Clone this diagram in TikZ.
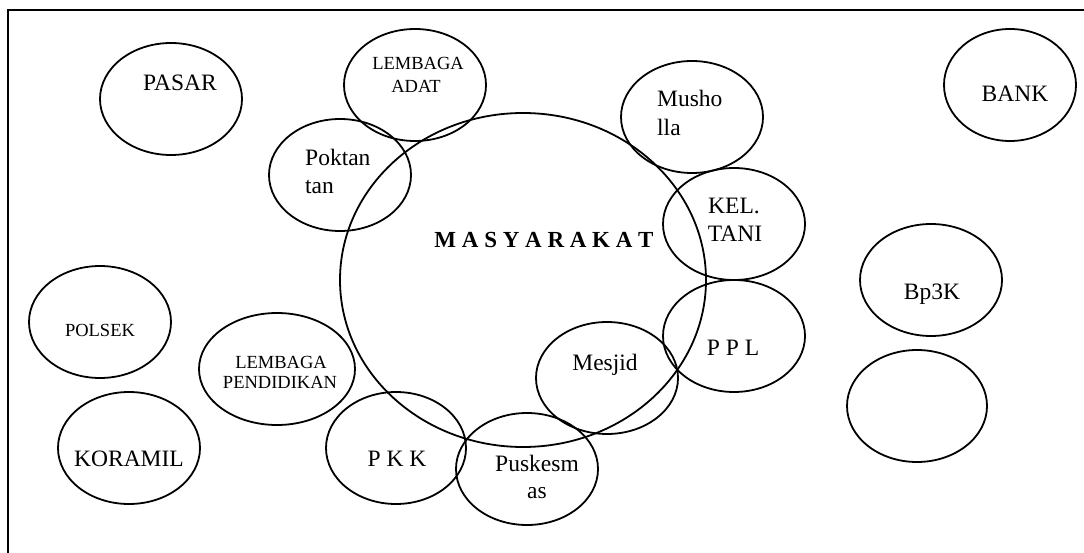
\documentclass[tikz,border=0pt]{standalone}
\usepackage{fontspec}
\setmainfont{Liberation Serif}
\usetikzlibrary{shapes.geometric}
\begin{document}
\begin{tikzpicture}[x=1pt,y=-1pt,
  oval/.style={draw,ellipse,line width=1.8pt,inner sep=0pt,minimum width=142pt,minimum height=112pt},
  txt/.style={inner sep=0pt,anchor=base,font=\fontsize{23.5}{28}\selectfont},
  txtl/.style={inner sep=0pt,anchor=base west,font=\fontsize{23.5}{28}\selectfont},
  stxt/.style={inner sep=0pt,anchor=base,font=\fontsize{18.5}{22}\selectfont},
  frame/.style={line width=1.8pt}]
\useasboundingbox (0,0) rectangle (1084,553);
\coordinate (fb) at (8,553);
\coordinate (fc) at (8,10);
\coordinate (fr) at (1084,10);
\draw[frame] (fb) -- (fc) -- (fr);

\node[oval,minimum width=366pt,minimum height=334pt] (masy) at (523,280) {};
\node[oval] (pasar) at (171,99) {};
\node[oval] (adat) at (415,85) {};
\node[oval] (poktan) at (340,175) {};
\node[oval] (musholla) at (692,117) {};
\node[oval] (kel) at (734,224) {};
\node[oval] (ppl) at (734,336) {};
\node[oval] (bp3k) at (931,280) {};
\node[oval,minimum width=140pt] (empty) at (917,406) {};
\node[oval,minimum width=132pt] (bank) at (1010,85) {};
\node[oval] (polsek) at (100,322) {};
\node[oval,minimum width=156pt] (pend) at (277,369) {};
\node[oval] (koramil) at (129,448) {};
\node[oval,minimum width=140pt] (pkk) at (396,448) {};
\node[oval] (pusk) at (527,469) {};
\node[oval] (mesjid) at (607,378) {};

\node[txt,font=\fontsize{23}{28}\selectfont\bfseries] (masy-t) at (544,248) {M A S Y A R A K A T};
\node[txt] (pasar-t) at (180,91) {PASAR};
\node[stxt] (adat-t1) at (418,70) {LEMBAGA};
\node[stxt] (adat-t2) at (416,93) {ADAT};
\node[txtl] (poktan-t1) at (305,166) {Poktan};
\node[txtl] (poktan-t2) at (305,194) {tan};
\node[txtl] (musholla-t1) at (657,107) {Musho};
\node[txtl] (musholla-t2) at (657,136) {lla};
\node[txt] (kel-t1) at (734,214) {KEL.};
\node[txt] (kel-t2) at (735,242) {TANI};
\node[txt] (ppl-t) at (733,355) {P P L};
\node[txt] (bp3k-t) at (932,299) {Bp3K};
\node[txt] (bank-t) at (1015,102) {BANK};
\node[stxt] (polsek-t) at (100,336) {POLSEK};
\node[stxt] (pend-t1) at (281,368) {LEMBAGA};
\node[stxt] (pend-t2) at (280,388) {PENDIDIKAN};
\node[txt] (koramil-t) at (129,466) {KORAMIL};
\node[txt] (pkk-t) at (397,466) {P K K};
\node[txt] (pusk-t1) at (537,471) {Puskesm};
\node[txt] (pusk-t2) at (537,498) {as};
\node[txt] (mesjid-t) at (605,370) {Mesjid};
\end{tikzpicture}
\end{document}
